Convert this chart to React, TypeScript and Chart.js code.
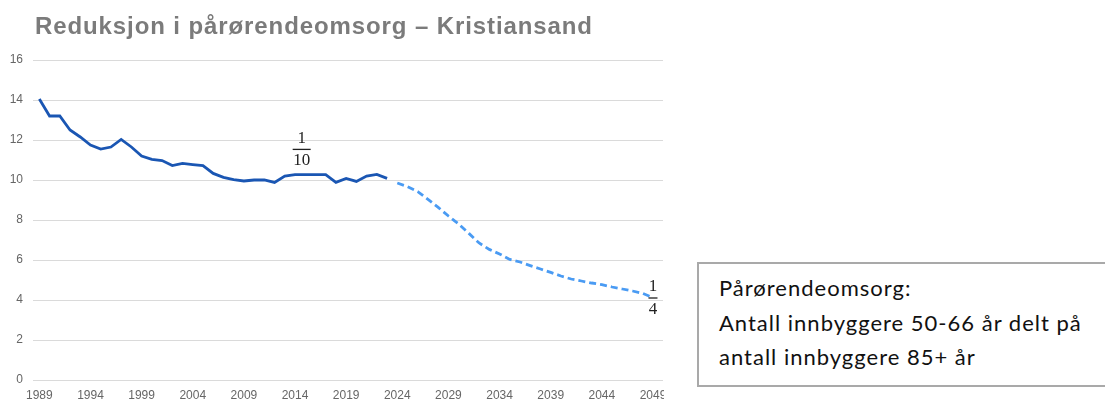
import React, { useEffect, useRef } from "react";
import { Chart, registerables } from "chart.js";

Chart.register(...registerables);

// ---- data ----
const historyYears = [
  1989, 1990, 1991, 1992, 1993, 1994, 1995, 1996, 1997, 1998, 1999, 2000,
  2001, 2002, 2003, 2004, 2005, 2006, 2007, 2008, 2009, 2010, 2011, 2012,
  2013, 2014, 2015, 2016, 2017, 2018, 2019, 2020, 2021, 2022, 2023,
];
const historyValues = [
  14.05, 13.2, 13.2, 12.5, 12.15, 11.75, 11.55, 11.65, 12.03, 11.65, 11.2, 11.03,
  10.97, 10.72, 10.83, 10.77, 10.72, 10.33, 10.13, 10.02, 9.95, 10.0, 10.0, 9.88,
  10.2, 10.27, 10.27, 10.27, 10.27, 9.88, 10.08, 9.93, 10.2, 10.28, 10.08,
];
const projectionYears = [
  2024, 2025, 2026, 2027, 2028, 2029, 2030, 2031, 2032, 2033, 2034, 2035, 2036,
  2037, 2038, 2039, 2040, 2041, 2042, 2043, 2044, 2045, 2046, 2047, 2048, 2049,
];
const projectionValues = [
  9.85, 9.67, 9.42, 9.03, 8.63, 8.2, 7.8, 7.33, 6.85, 6.53, 6.3, 6.03, 5.9,
  5.72, 5.55, 5.38, 5.2, 5.05, 4.95, 4.85, 4.77, 4.65, 4.55, 4.45, 4.33, 4.12,
];
const xTickYears = [1989, 1994, 1999, 2004, 2009, 2014, 2019, 2024, 2029, 2034, 2039, 2044, 2049];
const yTickValues = [0, 2, 4, 6, 8, 10, 12, 14, 16];

const titleText = "Reduksjon i pårørendeomsorg – Kristiansand";
const noteLines = [
  "Pårørendeomsorg:",
  "Antall innbyggere 50-66 år delt på",
  "antall innbyggere 85+ år",
];
const fractionNotes = [
  { num: "1", den: "10", year: 2014.65, value: 11.53, half: 9 },
  { num: "1", den: "4", year: 2049, value: 4.1, half: 4.5 },
];

const fractionPlugin = {
  id: "fractionNotes",
  afterDatasetsDraw(chart: any) {
    const { ctx, scales } = chart;
    const xs = scales.x;
    const ys = scales.y;
    ctx.save();
    ctx.fillStyle = "#1f1f1f";
    ctx.strokeStyle = "#1f1f1f";
    ctx.font = '17px "Liberation Serif"';
    ctx.textAlign = "center";
    ctx.textBaseline = "alphabetic";
    fractionNotes.forEach((f) => {
      const cx = xs.getPixelForValue(f.year);
      const cy = ys.getPixelForValue(f.value);
      ctx.fillText(f.num, cx, cy - 6.8);
      ctx.fillText(f.den, cx, cy + 16);
      ctx.lineWidth = 1.3;
      ctx.beginPath();
      ctx.moveTo(cx - f.half, cy);
      ctx.lineTo(cx + f.half, cy);
      ctx.stroke();
    });
    ctx.restore();
  },
};

export default function App() {
  const canvasRef = useRef<HTMLCanvasElement | null>(null);

  useEffect(() => {
    if (!canvasRef.current) return;
    const chart = new Chart(canvasRef.current, {
      type: "line",
      data: {
        datasets: [
          {
            label: "Historisk",
            data: historyYears.map((yr, i) => ({ x: yr, y: historyValues[i] })),
            borderColor: "#1a56b3",
            borderWidth: 2.8,
            pointRadius: 0,
            tension: 0,
            fill: false,
          },
          {
            label: "Framskrivning",
            data: projectionYears.map((yr, i) => ({ x: yr, y: projectionValues[i] })),
            borderColor: "#4a9bf3",
            borderWidth: 2.8,
            borderDash: [7, 4],
            pointRadius: 0,
            tension: 0,
            fill: false,
          },
        ],
      },
      options: {
        responsive: false,
        animation: false,
        devicePixelRatio: 1,
        layout: { padding: { left: 0, top: 60, right: 1, bottom: 0 } },
        plugins: {
          legend: { display: false },
          tooltip: { enabled: false },
          title: { display: false },
        },
        scales: {
          x: {
            type: "linear",
            min: 1988.38,
            max: 2049.98,
            grid: { display: false, drawTicks: false },
            border: { display: false },
            afterBuildTicks: (scale: any) => {
              scale.ticks = xTickYears.map((v) => ({ value: v }));
            },
            afterFit: (scale: any) => {
              scale.height = 21;
              scale.paddingLeft = 0;
              scale.paddingRight = 0;
            },
            ticks: {
              autoSkip: false,
              maxRotation: 0,
              padding: 8,
              color: "#666666",
              font: { family: '"Liberation Sans", Arial', size: 12 },
              callback: (v: any) => String(v),
            },
          },
          y: {
            min: 0,
            max: 16,
            grid: { color: "#dadada", lineWidth: 1, drawTicks: false },
            border: { display: false },
            afterBuildTicks: (scale: any) => {
              scale.ticks = yTickValues.map((v) => ({ value: v }));
            },
            afterFit: (scale: any) => {
              scale.width = 33;
            },
            ticks: {
              padding: 10,
              color: "#666666",
              font: { family: '"Liberation Sans", Arial', size: 12 },
              callback: (v: any) => String(v),
            },
          },
        },
      },
      plugins: [fractionPlugin],
    });
    return () => chart.destroy();
  }, []);

  return (
    <div
      style={{
        position: "absolute",
        left: 0,
        top: 0,
        width: 1105,
        height: 401,
        overflow: "hidden",
        background: "#ffffff",
      }}
    >
      <canvas
        ref={canvasRef}
        width={664}
        height={401}
        style={{ position: "absolute", left: 0, top: 0, width: 664, height: 401 }}
      />
      <div
        style={{
          position: "absolute",
          left: 35,
          top: 14,
          fontFamily: '"Liberation Sans", Arial, sans-serif',
          fontWeight: "bold",
          fontSize: 24,
          letterSpacing: "0.9px",
          lineHeight: "24px",
          color: "#7b7b7b",
          whiteSpace: "nowrap",
        }}
      >
        {titleText}
      </div>
      <div
        style={{
          position: "absolute",
          left: 697,
          top: 262,
          width: 430,
          height: 125,
          boxSizing: "border-box",
          border: "2px solid #a9a9a9",
        }}
      />
      <div
        style={{
          position: "absolute",
          left: 719,
          top: 271,
          fontFamily: "Lato, Carlito, Calibri, sans-serif",
          fontSize: 22,
          letterSpacing: "1px",
          lineHeight: "34.5px",
          color: "#111111",
          whiteSpace: "nowrap",
        }}
      >
        {noteLines.map((t, i) => (
          <div key={i}>{t}</div>
        ))}
      </div>
    </div>
  );
}
